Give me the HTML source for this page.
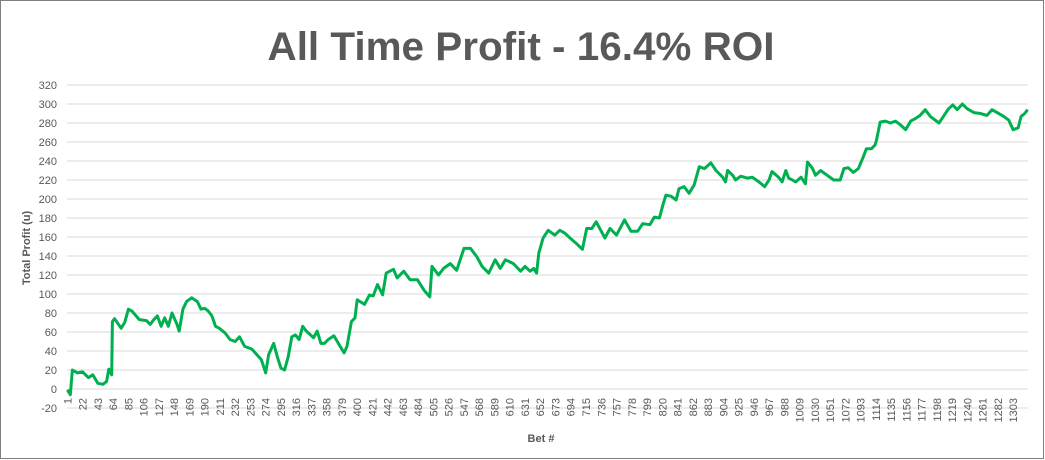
<!DOCTYPE html>
<html><head><meta charset="utf-8"><style>
body{margin:0;background:#fff;}
svg{display:block;font-family:"Liberation Sans",Arial,sans-serif;}
</style></head><body>
<svg id="chart" width="1045" height="460" viewBox="0 0 1045 460">
<rect x="0.5" y="0.5" width="1043" height="458" fill="#fff" stroke="#7f7f7f"/>
<text x="521" y="60" text-anchor="middle" font-size="40" font-weight="bold" fill="#595959" textLength="507" lengthAdjust="spacingAndGlyphs">All Time Profit - 16.4% ROI</text>
<g id="grid"></g><g id="ylab"></g><g id="xlab"></g><g id="series"></g>
<text transform="translate(30,248) rotate(-90)" text-anchor="middle" font-size="11" font-weight="bold" fill="#595959">Total Profit (u)</text>
<text x="541" y="442" text-anchor="middle" font-size="11" font-weight="bold" fill="#595959">Bet #</text>
</svg>
<script>
const betIndex=[1,5,8,15,22,30,36,43,50,55,58,62,63,66,75,80,85,90,100,110,115,120,125,130,135,140,145,152,155,160,165,172,180,185,190,195,200,205,210,218,225,232,238,245,255,262,268,274,278,285,290,295,300,305,310,315,320,325,330,340,345,350,355,360,368,375,382,386,392,397,400,410,417,422,428,435,440,450,455,464,473,483,492,500,503,512,519,528,537,547,556,565,572,581,590,597,604,615,625,631,638,643,647,650,656,663,672,679,686,693,702,710,716,723,729,741,748,757,768,777,786,793,803,809,816,821,825,832,839,843,850,857,864,871,878,887,894,903,907,910,917,921,928,937,944,953,961,967,971,980,985,990,994,1004,1011,1017,1020,1027,1031,1038,1047,1056,1065,1070,1076,1083,1090,1097,1101,1108,1113,1115,1120,1127,1134,1141,1148,1155,1162,1169,1175,1182,1189,1201,1208,1214,1220,1226,1233,1240,1249,1258,1267,1274,1281,1290,1297,1303,1310,1314,1319,1323];
const profit=[-1,-6,20,17,18,12,15,6,5,8,21,15,71,74,64,70,84,82,73,72,68,73,77,66,75,66,80,68,61,84,92,96,92,84,85,82,77,66,64,59,52,50,55,45,42,36,31,17,36,48,34,22,20,34,55,57,52,66,61,54,61,48,48,52,56,47,38,45,71,75,94,89,99,98,110,99,122,126,117,124,115,115,104,97,129,120,127,132,125,148,148,139,129,122,136,127,136,132,124,129,124,127,122,143,159,167,162,167,164,159,153,147,169,169,176,159,169,162,178,166,166,174,173,181,180,194,204,203,199,211,213,206,215,234,232,238,230,223,218,230,225,220,224,222,223,218,213,220,229,223,218,230,222,218,223,216,239,232,225,230,225,220,220,232,233,228,232,245,253,253,257,262,281,282,280,282,278,273,282,285,288,294,287,280,288,295,299,294,300,295,291,290,288,294,291,287,283,273,275,287,290,294];
const yTicks=[-20,0,20,40,60,80,100,120,140,160,180,200,220,240,260,280,300,320];
const nCats=1323, labelStep=21;
const X0=67,X1=1028,Y0=389,PX=0.95;
const ns="http://www.w3.org/2000/svg";
const cw=(X1-X0)/nCats;
function xs(b){return X0+(b-0.5)*cw;}
function ys(v){return Y0-v*PX;}
const grid=document.getElementById('grid'),yl=document.getElementById('ylab'),xl=document.getElementById('xlab'),ser=document.getElementById('series');
yTicks.forEach(t=>{
 const l=document.createElementNS(ns,'line');
 
 
 l.setAttribute('x1',X0);l.setAttribute('x2',X1);l.setAttribute('y1',ys(t));l.setAttribute('y2',ys(t));
 l.setAttribute('stroke','#d9d9d9');l.setAttribute('stroke-width','1');
 grid.appendChild(l);
 const tx=document.createElementNS(ns,'text');
 
 
 tx.setAttribute('x',57);tx.setAttribute('y',ys(t)+4);tx.setAttribute('text-anchor','end');
 tx.setAttribute('font-size','11');tx.setAttribute('fill','#595959');tx.textContent=t;
 yl.appendChild(tx);
});
for(let b=1;b<=nCats;b+=labelStep){
 const tx=document.createElementNS(ns,'text');
 
 
 const x=xs(b)+4;
 tx.setAttribute('transform','translate('+x+',398) rotate(-90)');
 tx.setAttribute('text-anchor','end');tx.setAttribute('font-size','11');tx.setAttribute('fill','#595959');
 tx.textContent=b;xl.appendChild(tx);
}
const p=document.createElementNS(ns,'polyline');


p.setAttribute('points',betIndex.map((b,i)=>xs(b).toFixed(1)+','+ys(profit[i]).toFixed(1)).join(' '));
p.setAttribute('fill','none');p.setAttribute('stroke','#00B050');p.setAttribute('stroke-width','3');p.setAttribute('stroke-linejoin','round');
ser.appendChild(p);
</script>
</body></html>
